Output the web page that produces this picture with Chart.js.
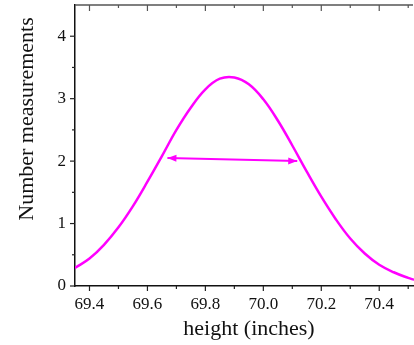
<!DOCTYPE html>
<html>
<head>
<meta charset="utf-8">
<script src="https://cdn.jsdelivr.net/npm/chart.js@4"></script>
<style>
  html, body { margin: 0; padding: 0; background: #fff; }
  #wrap { width: 414px; height: 345px; position: relative; }
</style>
</head>
<body>
<div id="wrap"><canvas id="chart"></canvas></div>
<script>
const heights = [69.35, 69.40, 69.45, 69.50, 69.55, 69.60, 69.65, 69.70, 69.75, 69.80, 69.85, 69.90,
  69.95, 70.00, 70.05, 70.10, 70.15, 70.20, 70.25, 70.30, 70.35, 70.40, 70.45, 70.50, 70.52];
const counts = [0.29, 0.44, 0.66, 0.94, 1.28, 1.67, 2.08, 2.50, 2.86, 3.15, 3.32, 3.34,
  3.23, 2.99, 2.65, 2.25, 1.83, 1.43, 1.07, 0.76, 0.52, 0.34, 0.22, 0.13, 0.10];
const arrowX = [69.669, 70.117];
const arrowY = [2.05, 2.0];
const xTicks = [69.4, 69.6, 69.8, 70.0, 70.2, 70.4];
const xMinor = [69.5, 69.7, 69.9, 70.1, 70.3, 70.5];
const yTicks = [0, 1, 2, 3, 4];
const yMinor = [0.5, 1.5, 2.5, 3.5];

const serif = "'Liberation Serif', 'Times New Roman', serif";
const magenta = '#ff00ff';

function tick(ctx, x1, y1, x2, y2) {
  ctx.beginPath();
  ctx.moveTo(x1, y1);
  ctx.lineTo(x2, y2);
  ctx.stroke();
}

function arrowHead(ctx, from, to) {
  const ang = Math.atan2(to.y - from.y, to.x - from.x);
  const len = 9, half = 3.5;
  ctx.save();
  ctx.translate(to.x, to.y);
  ctx.rotate(ang);
  ctx.beginPath();
  ctx.moveTo(0, 0);
  ctx.lineTo(-len, -half);
  ctx.lineTo(-len, half);
  ctx.closePath();
  ctx.fill();
  ctx.restore();
}

const frame = {
  id: 'frame',
  afterDraw(chart) {
    const { ctx, chartArea: a, scales: { x, y } } = chart;
    ctx.save();
    ctx.lineWidth = 1.2;
    ctx.strokeStyle = '#222';
    xTicks.forEach((v) => tick(ctx, x.getPixelForValue(v), a.bottom, x.getPixelForValue(v), a.bottom + 5));
    xMinor.forEach((v) => tick(ctx, x.getPixelForValue(v), a.bottom, x.getPixelForValue(v), a.bottom + 3));
    yTicks.forEach((v) => tick(ctx, a.left, y.getPixelForValue(v), a.left - 5, y.getPixelForValue(v)));
    yMinor.forEach((v) => tick(ctx, a.left, y.getPixelForValue(v), a.left - 3, y.getPixelForValue(v)));

    // top axis, grey with inward ticks
    ctx.strokeStyle = '#555';
    ctx.lineWidth = 1.5;
    tick(ctx, a.left, a.top, a.right - 1, a.top);
    ctx.lineWidth = 1.2;
    xTicks.forEach((v) => tick(ctx, x.getPixelForValue(v), a.top, x.getPixelForValue(v), a.top + 6));
    xMinor.forEach((v) => tick(ctx, x.getPixelForValue(v), a.top, x.getPixelForValue(v), a.top + 3));

    // arrow heads on the width marker
    const pts = chart.getDatasetMeta(1).data;
    ctx.fillStyle = magenta;
    arrowHead(ctx, pts[1], pts[0]);
    arrowHead(ctx, pts[0], pts[1]);

    // axis titles
    ctx.fillStyle = '#111';
    ctx.font = `22px ${serif}`;
    ctx.textAlign = 'center';
    ctx.textBaseline = 'middle';
    ctx.fillText('height (inches)', 249, 329);
    ctx.translate(27, 119);
    ctx.rotate(-Math.PI / 2);
    ctx.fillText('Number measurements', 0, 0);
    ctx.restore();
  },
};

new Chart(document.getElementById('chart'), {
  type: 'scatter',
  data: {
    datasets: [
      {
        data: heights.map((h, i) => ({ x: h, y: counts[i] })),
        showLine: true,
        borderColor: magenta,
        borderWidth: 2.5,
        pointRadius: 0,
        tension: 0.4,
      },
      {
        data: arrowX.map((h, i) => ({ x: h, y: arrowY[i] })),
        showLine: true,
        borderColor: magenta,
        borderWidth: 2,
        pointRadius: 0,
      },
    ],
  },
  options: {
    responsive: true,
    maintainAspectRatio: false,
    animation: false,
    events: [],
    layout: { padding: { top: 5, right: 0, left: 0, bottom: 0 } },
    plugins: { legend: { display: false }, tooltip: { enabled: false }, title: { display: false } },
    scales: {
      x: {
        type: 'linear',
        min: 69.35,
        max: 70.52,
        afterFit: (s) => { s.height = 59; s.paddingLeft = 0; s.paddingRight = 0; },
        grid: { display: false, drawTicks: true, tickLength: 5 },
        border: { display: true, color: '#111', width: 1.5 },
        ticks: {
          stepSize: 0.2,
          includeBounds: false,
          maxRotation: 0,
          autoSkip: false,
          padding: 3,
          color: '#111',
          font: { family: serif, size: 17 },
          callback: (v) => Number(v).toFixed(1),
        },
      },
      y: {
        min: 0,
        max: 4.5,
        afterFit: (s) => { s.width = 75; s.paddingTop = 0; s.paddingBottom = 0; },
        grid: { display: false, drawTicks: true, tickLength: 5 },
        border: { display: true, color: '#111', width: 1.5 },
        ticks: {
          stepSize: 1,
          includeBounds: false,
          padding: 4,
          color: '#111',
          font: { family: serif, size: 17 },
          callback: (v) => (Number.isInteger(v) ? String(v) : ''),
        },
      },
    },
  },
  plugins: [frame],
});
</script>
</body>
</html>
